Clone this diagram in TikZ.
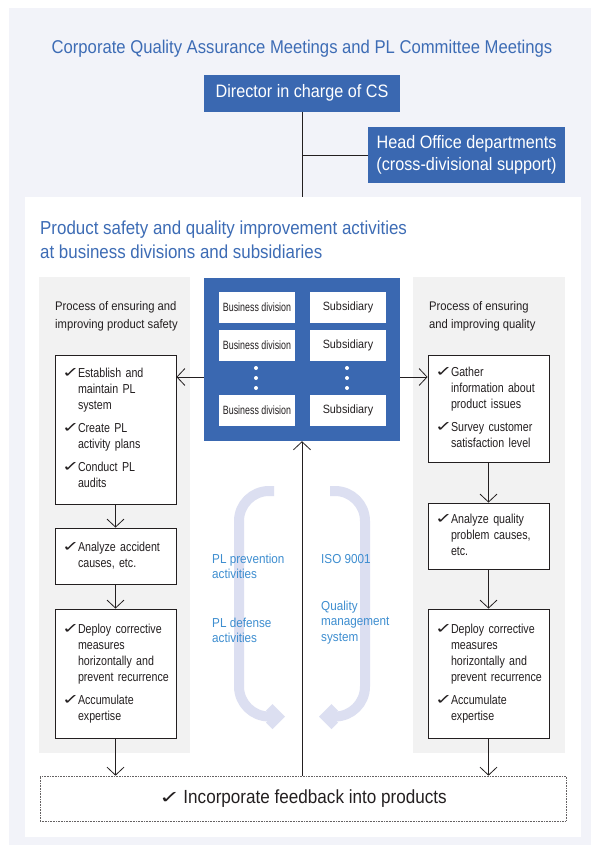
\documentclass[tikz,border=0pt]{standalone}
\usepackage{fontspec}
\usepackage{graphicx}
\setmainfont{Liberation Sans}[FakeStretch=0.9]
\newfontfamily\boxfam{Liberation Sans}[FakeStretch=0.82]
\newfontfamily\narrowfont{Liberation Sans}[FakeStretch=0.74]
\newfontfamily\symfont{DejaVu Sans}
\usetikzlibrary{arrows.meta}
\definecolor{bglav}{HTML}{F2F3F9}
\definecolor{panelgray}{HTML}{F2F2F2}
\definecolor{blueboxc}{HTML}{3A68B1}
\definecolor{titleblue}{HTML}{3D6CB5}
\definecolor{labelblue}{HTML}{3E8ED0}
\definecolor{lavarrowc}{HTML}{DCDFF1}
\definecolor{darktext}{HTML}{231F20}
\newcommand\chk{\makebox[16pt][l]{\scalebox{1.15}[0.8]{\symfont\fontsize{18}{18}\selectfont ✓}}}
\newcommand\boxfont{\boxfam\fontsize{13}{16}\selectfont}
\tikzset{
  titletext/.style={text=titleblue, font=\fontsize{18.5}{24}\selectfont, inner sep=0pt},
  bluebox/.style={fill=blueboxc, text=white, font=\fontsize{18}{21}\selectfont, inner sep=0pt},
  cell/.style={fill=white, text=darktext, minimum width=76pt, minimum height=31pt, inner sep=0pt, font=\fontsize{12}{14}\selectfont},
  stepbox/.style={draw=darktext, line width=0.8pt, fill=white, text=darktext, minimum width=121pt, text width=107pt, inner xsep=7pt, inner ysep=0pt, font=\boxfont},
  headtext/.style={text=darktext, font=\fontsize{12.5}{18}\selectfont, align=left, inner sep=0pt, anchor=west},
  midlabel/.style={text=labelblue, font=\fontsize{13}{15.5}\selectfont, align=left, inner sep=0pt, anchor=west},
  conn/.style={draw=darktext, line width=0.8pt},
  arr/.style={draw=darktext, line width=0.8pt, -{Straight Barb[length=8pt,width=17pt]}},
  lavband/.style={draw=lavarrowc, line width=10pt},
  dotbox/.style={draw=darktext!70, densely dotted, line width=0.6pt, fill=white, text=darktext, font=\fontsize{19}{21}\selectfont, inner sep=0pt}
}
\begin{document}
\begin{tikzpicture}[x=1pt,y=-1pt]
\useasboundingbox (0,0) rectangle (591,846);
% backgrounds
\fill[bglav] (9,8) rectangle (591,845);
\fill[white] (25,197) rectangle (581,837);
\fill[panelgray] (39,277) rectangle (190,753);
\fill[panelgray] (413,277) rectangle (565,753);
\coordinate (paneltop) at (302,197);

% top
\node[titletext] (title) at (302,49) {Corporate Quality Assurance Meetings and PL Committee Meetings};
\node[bluebox, minimum width=196pt, minimum height=37pt] (dir) at (302,93) {Director in charge of CS};
\node[bluebox, minimum width=197pt, minimum height=56pt, align=center, font=\fontsize{18}{21.5}\selectfont] (head) at (466.5,155) {Head Office departments\\(cross-divisional support)};

% section heading
\node[titletext, align=left, anchor=west, font=\fontsize{18.8}{24}\selectfont] (h2) at (40,240) {Product safety and quality improvement activities\\at business divisions and subsidiaries};

% central organisation box
\node[fill=blueboxc, minimum width=196pt, minimum height=163pt, inner sep=0pt] (org) at (302,359.5) {};
\node[cell] (b1) at (257,307.5) {\narrowfont Business division};
\node[cell] (b2) at (257,345.5) {\narrowfont Business division};
\node[cell] (b3) at (257,410.5) {\narrowfont Business division};
\node[cell] (s1) at (348,307.5) {Subsidiary};
\node[cell] (s2) at (348,345.5) {Subsidiary};
\node[cell] (s3) at (348,410.5) {Subsidiary};
\foreach \yy in {368,378,388} {
  \fill[white] (256,\yy) circle (2pt);
  \fill[white] (347,\yy) circle (2pt);
}

% column headings
\node[headtext] (lh) at (55,316) {Process of ensuring and\\improving product safety};
\node[headtext] (rh) at (429,316) {Process of ensuring\\and improving quality};

% left column
\node[stepbox, minimum height=149pt] (l1) at (115.5,429.5) {\noindent\begin{tabular}{@{}l@{}l@{}}
\chk & Establish and\\ & maintain PL\\ & system\\[7pt]
\chk & Create PL\\ & activity plans\\[7pt]
\chk & Conduct PL\\ & audits
\end{tabular}};
\node[stepbox, minimum height=56pt] (l2) at (115.5,556) {\noindent\begin{tabular}{@{}l@{}l@{}}
\chk & Analyze accident\\ & causes, etc.
\end{tabular}};
\node[stepbox, minimum height=129pt] (l3) at (115.5,673.5) {\noindent\begin{tabular}{@{}l@{}l@{}}
\chk & Deploy corrective\\ & measures\\ & horizontally and\\ & prevent recurrence\\[7pt]
\chk & Accumulate\\ & expertise
\end{tabular}};

% right column
\node[stepbox, minimum height=107pt] (r1) at (488.5,408.5) {\noindent\begin{tabular}{@{}l@{}l@{}}
\chk & Gather\\ & information about\\ & product issues\\[7pt]
\chk & Survey customer\\ & satisfaction level
\end{tabular}};
\node[stepbox, minimum height=66pt] (r2) at (488.5,536) {\noindent\begin{tabular}{@{}l@{}l@{}}
\chk & Analyze quality\\ & problem causes,\\ & etc.
\end{tabular}};
\node[stepbox, minimum height=129pt] (r3) at (488.5,673.5) {\noindent\begin{tabular}{@{}l@{}l@{}}
\chk & Deploy corrective\\ & measures\\ & horizontally and\\ & prevent recurrence\\[7pt]
\chk & Accumulate\\ & expertise
\end{tabular}};

% feedback box
\node[dotbox, minimum width=526pt, minimum height=45pt] (fb) at (303,798.5) {\scalebox{1.15}[0.8]{\symfont\fontsize{22}{22}\selectfont ✓}\hspace{3pt}Incorporate feedback into products};

% lavender cycle arrows
\draw[lavband] (274,491) -- (269,491) arc[start angle=270, end angle=180, radius=30] -- (239,686.5) arc[start angle=180, end angle=90, radius=30] -- (272,716.5);
\fill[lavarrowc] (285,716.5) -- (272.5,704) -- (266,710.5) -- (272,716.5) -- (266,722.5) -- (272.5,729) -- cycle;
\draw[lavband] (330,491) -- (335,491) arc[start angle=270, end angle=360, radius=30] -- (365,686.5) arc[start angle=0, end angle=90, radius=30] -- (332,716.5);
\fill[lavarrowc] (319,716.5) -- (331.5,704) -- (338,710.5) -- (332,716.5) -- (338,722.5) -- (331.5,729) -- cycle;

% middle labels
\node[midlabel] (pp) at (212,566.5) {PL prevention\\activities};
\node[midlabel] (pd) at (212,630.5) {PL defense\\activities};
\node[midlabel] (iso) at (321,559) {ISO 9001};
\node[midlabel] (qms) at (321,622.5) {Quality\\management\\system};

% connectors
\coordinate (jy) at (0,377);
\draw[conn] (dir.south) -- (paneltop);
\draw[conn] (dir.south |- head.west) -- (head.west);
\draw[arr] (org.west |- jy) -- (l1.east |- jy);
\draw[arr] (org.east |- jy) -- (r1.west |- jy);
\draw[arr] (l1.south) -- (l2.north);
\draw[arr] (l2.south) -- (l3.north);
\draw[arr] (r1.south) -- (r2.north);
\draw[arr] (r2.south) -- (r3.north);
\draw[arr] (l3.south) -- (l3.south |- fb.north);
\draw[arr] (r3.south) -- (r3.south |- fb.north);
\draw[arr] (org.south |- fb.north) -- (org.south);
\end{tikzpicture}
\end{document}
